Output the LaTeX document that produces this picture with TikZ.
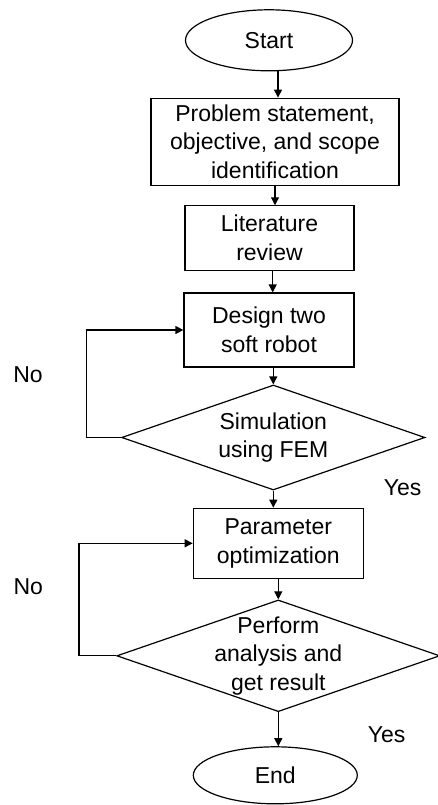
\documentclass[tikz,border=0pt]{standalone}
\usepackage{fontspec}
\setmainfont{Liberation Sans}
\usetikzlibrary{shapes.geometric,arrows.meta}
\begin{document}
\begin{tikzpicture}[x=1pt,y=-1pt,
  every node/.style={font=\fontsize{23}{28.5}\selectfont},
  line/.style={draw=black,line width=1.2pt},
  boxnode/.style={line,rectangle,inner sep=0pt,align=center},
  ovalnode/.style={line,ellipse,inner sep=0pt},
  decnode/.style={line,diamond,inner sep=0pt},
  lbl/.style={inner sep=0pt,align=center},
  arr/.style={line width=1.2pt,-{Triangle[length=8pt,width=8pt]}}]
\useasboundingbox (0,0) rectangle (437,805);
\node[ovalnode,minimum width=167pt,minimum height=61pt] (start) at (269,40.3) {Start};
\node[boxnode,minimum width=248pt,minimum height=87pt] (prob) at (275,141.7) {Problem statement,\\objective, and scope\\identification};
\node[boxnode,minimum width=169pt,minimum height=64.3pt] (lit) at (269.5,238) {Literature\\review};
\node[boxnode,minimum width=170pt,minimum height=74pt] (des) at (269,330) {Design two\\soft robot};
\node[decnode,minimum width=303.3pt,minimum height=105pt,label={[lbl]center:{Simulation\\using FEM}}] (sim) at (273.3,437.5) {};
\node[boxnode,minimum width=170pt,minimum height=70pt] (par) at (278.3,543.3) {Parameter\\optimization};
\node[decnode,minimum width=323pt,minimum height=111.7pt,label={[lbl]center:{Perform\\analysis and\\get result}}] (perf) at (278.3,655.8) {};
\node[ovalnode,minimum width=164pt,minimum height=57pt] (end) at (275.3,775.3) {End};
\node[lbl] (no1) at (28,375) {No};
\node[lbl] (no2) at (28.3,586.7) {No};
\node[lbl] (yes1) at (402.7,488) {Yes};
\node[lbl] (yes2) at (386.7,735) {Yes};
\draw[arr] ([xshift=9pt]start.south) -- ([xshift=9pt]start.south |- prob.north);
\draw[arr] (prob.south) -- (prob.south |- lit.north);
\draw[arr] ([xshift=3.2pt]lit.south) -- ([xshift=3.2pt]lit.south |- des.north);
\draw[arr] (des.south -| sim.north) -- (sim.north);
\draw[arr] (sim.south) -- (sim.south |- par.north);
\draw[arr] (par.south) -- (perf.north);
\draw[arr] (perf.south) -- (perf.south |- end.north);
\draw[arr] (sim.west) -- ++(-34.4,0) |- (des.west);
\draw[arr] (perf.west) -- ++(-37.3,0) |- (par.west);
\end{tikzpicture}
\end{document}
